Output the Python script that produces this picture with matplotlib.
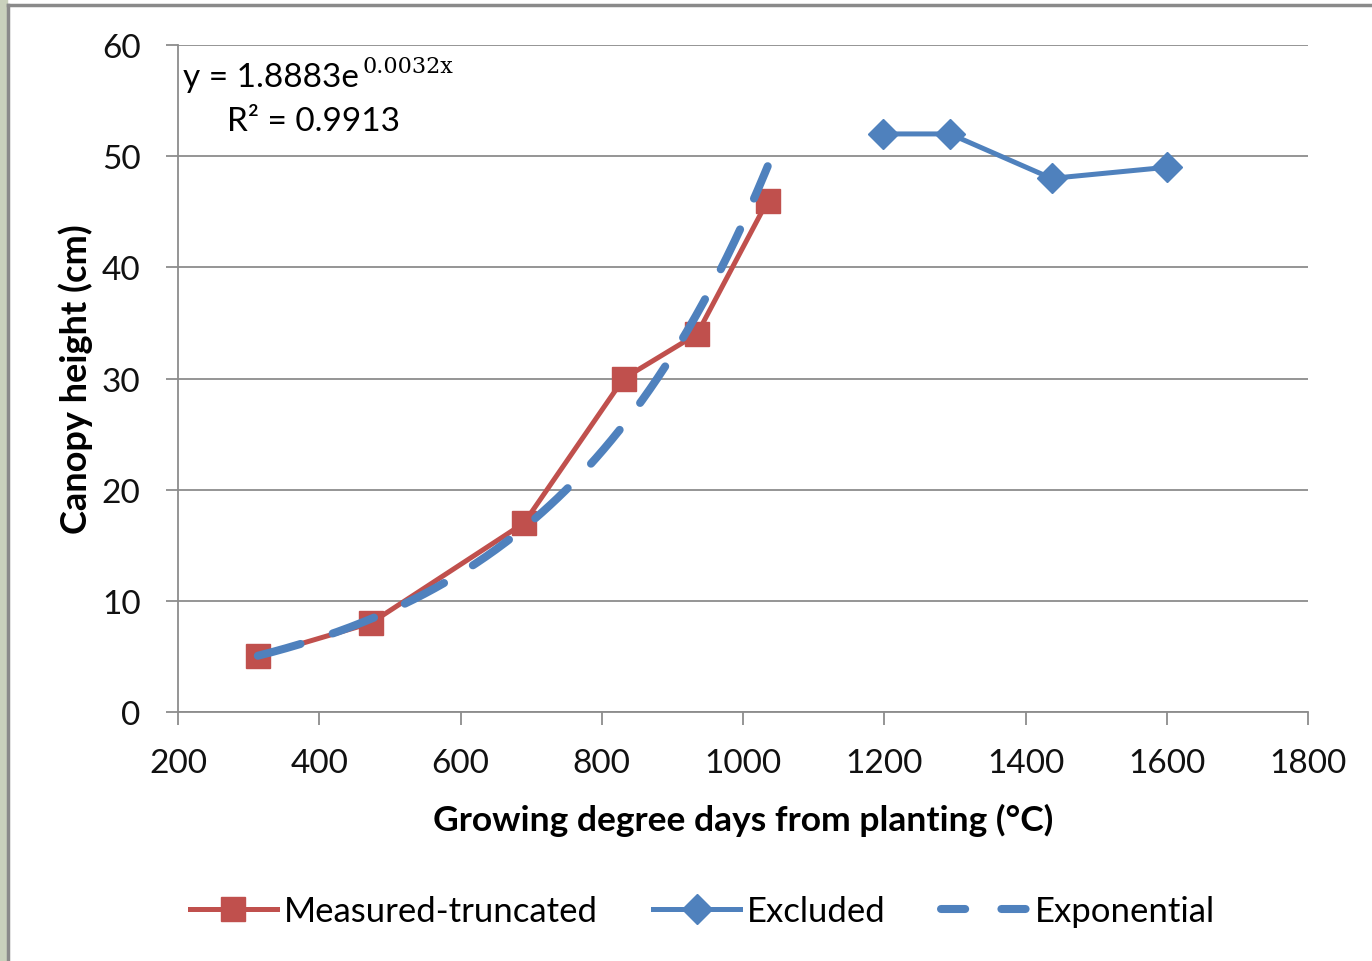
import numpy as np
import matplotlib.pyplot as plt
from matplotlib.patches import Rectangle
from matplotlib.lines import Line2D

plt.rcParams['font.family'] = ['Lato', 'DejaVu Sans']

# Canopy height against growing degree days
gdd_measured = [313, 473, 690, 831, 935, 1035]
height_measured = [5, 8, 17, 30, 34, 46]
gdd_excluded = [1198, 1293, 1437, 1600]
height_excluded = [52, 52, 48, 49]

red = '#C0504D'
blue = '#4F81BD'
grid_gray = '#8C8C8C'

# Exponential trendline: least squares fit of ln(height) on GDD
b, ln_a = np.polyfit(gdd_measured, np.log(height_measured), 1)
x_fit = np.linspace(min(gdd_measured), max(gdd_measured), 200)
y_fit = np.exp(ln_a) * np.exp(b * x_fit)

W, H = 1372, 962
fig = plt.figure(figsize=(W / 100, H / 100), dpi=100)
ax = fig.add_axes([178 / W, 1 - 713 / H, 1130 / W, 667 / H])

ax.plot(gdd_measured, height_measured, color=red, lw=3.6, marker='s', ms=17,
        label='Measured-truncated', zorder=3)
ax.plot(gdd_excluded, height_excluded, color=blue, lw=3.6, marker='D', ms=15,
        label='Excluded', zorder=3)
ax.plot(x_fit, y_fit, color=blue, lw=5.8, dashes=(5.5, 4.2),
        dash_capstyle='round', label='Exponential', zorder=4)

ax.set_xlim(200, 1800)
ax.set_ylim(0, 60)
ax.set_xticks(range(200, 1801, 200))
ax.set_yticks(range(0, 61, 10))
ax.yaxis.grid(True, color=grid_gray, lw=1.3)
ax.set_axisbelow(True)
for side in ['top', 'right']:
    ax.spines[side].set_visible(False)
for side in ['left', 'bottom']:
    ax.spines[side].set_color(grid_gray)
    ax.spines[side].set_linewidth(1.3)
ax.tick_params(axis='both', colors=grid_gray, labelcolor='#111111', labelsize=24,
               length=9, width=1.3, direction='out')
ax.tick_params(axis='x', pad=17)
ax.tick_params(axis='y', pad=18)

ax.set_xlabel('Growing degree days from planting (°C)', fontsize=25.5,
              fontweight='bold', labelpad=18)
ax.set_ylabel('Canopy height (cm)', fontsize=26, fontweight='bold', labelpad=6)

# trendline equation, placed in figure pixels
def fig_xy(px, py):
    return px / W, 1 - py / H

fig.text(*fig_xy(183, 78), 'y = 1.8883e', fontsize=24, ha='left', va='center')
fig.text(*fig_xy(363, 67), '0.0032x', fontsize=16, family='DejaVu Serif',
         ha='left', va='center')
fig.text(*fig_xy(227, 122), 'R² = 0.9913', fontsize=24, ha='left', va='center')

handles = [
    Line2D([], [], color=red, lw=3.6, marker='s', ms=17),
    Line2D([], [], color=blue, lw=3.6, marker='D', ms=15),
    Line2D([], [], color=blue, lw=5.8, dashes=(3, 4.5), dash_capstyle='round'),
]
fig.legend(handles, ['Measured-truncated', 'Excluded', 'Exponential'],
           loc='center', bbox_to_anchor=(0.512, 1 - 912 / H), ncol=3,
           frameon=False, fontsize=25, handlelength=2.5, handletextpad=0.2,
           columnspacing=1.6)

# page edge: textured strip and frame
fig.patches.append(Rectangle((0, 0), 7 / W, 1, transform=fig.transFigure,
                             color='#C9D1BC', zorder=0))
fig.lines.append(Line2D([8 / W, 8 / W], [0, 1 - 6 / H],
                        transform=fig.transFigure, color='#8A8A8A', lw=2.5))
fig.lines.append(Line2D([8 / W, 1], [1 - 6 / H, 1 - 6 / H],
                        transform=fig.transFigure, color='#8A8A8A', lw=2.5))

fig.savefig('out.png', dpi=100)
